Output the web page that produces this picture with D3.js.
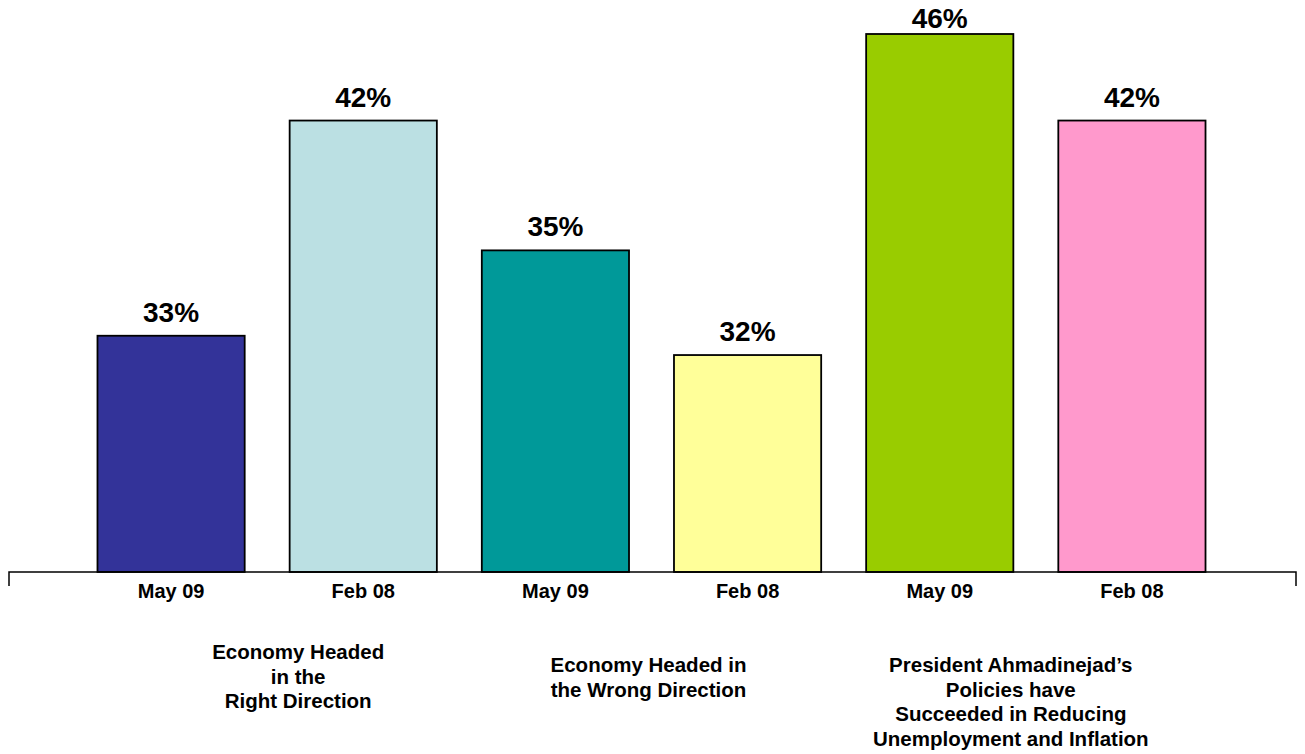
<!DOCTYPE html>
<html>
<head>
<meta charset="utf-8">
<script src="https://cdn.jsdelivr.net/npm/d3@7"></script>
<style>
  body { margin: 0; background: #fff; }
  text { font-family: Arial, "Liberation Sans", sans-serif; font-weight: bold; fill: #000; }
</style>
</head>
<body>
<div id="chart-container"></div>
<script>
// categories and values
var periods = ['May 09', 'Feb 08', 'May 09', 'Feb 08', 'May 09', 'Feb 08'];
var printed = ['33%', '42%', '35%', '32%', '46%', '42%'];
// bar lengths as they stand in the picture (the source bars are not drawn to the printed numbers)
var bar_levels = [20.2, 38.6, 27.5, 18.55, 46, 38.6];
var bar_colors = ['#333399', '#bbe0e3', '#009999', '#ffff99', '#99cc00', '#ff99cc'];
var groups = [
  ['Economy Headed', 'in the', 'Right Direction'],
  ['Economy Headed in', 'the Wrong Direction'],
  ['President Ahmadinejad\u2019s', 'Policies have', 'Succeeded in Reducing', 'Unemployment and Inflation']
];

var svg_width = 1305;
var svg_height = 754;
var base_y = 572;

var svg = d3.select('#chart-container')
  .append('svg')
  .attr('width', svg_width)
  .attr('height', svg_height);

var x = d3.scaleBand()
  .domain(d3.range(periods.length))
  .range([75, 1228])
  .paddingInner(0.234)
  .paddingOuter(0.117);

var y = d3.scaleLinear()
  .domain([0, 46])
  .range([base_y, 34]);

// bars
svg.selectAll('.bar')
  .data(bar_levels)
  .enter()
  .append('rect')
  .attr('class', 'bar')
  .attr('x', function(d, i) { return x(i); })
  .attr('y', function(d) { return y(d); })
  .attr('width', x.bandwidth())
  .attr('height', function(d) { return base_y - y(d); })
  .attr('fill', function(d, i) { return bar_colors[i]; })
  .attr('stroke', '#000')
  .attr('stroke-width', 1.8);

// value labels
svg.selectAll('.value-label')
  .data(bar_levels)
  .enter()
  .append('text')
  .attr('class', 'value-label')
  .attr('x', function(d, i) { return x(i) + x.bandwidth() / 2; })
  .attr('y', function(d) { return Math.max(y(d) - 14, 28); })
  .attr('text-anchor', 'middle')
  .attr('font-size', '28px')
  .text(function(d, i) { return printed[i]; });

// axis line with end ticks
svg.append('path')
  .attr('d', 'M9,586V' + base_y + 'H1296V586')
  .attr('fill', 'none')
  .attr('stroke', '#000')
  .attr('stroke-width', 1.5);

svg.selectAll('.period-label')
  .data(periods)
  .enter()
  .append('text')
  .attr('class', 'period-label')
  .attr('x', function(d, i) { return x(i) + x.bandwidth() / 2; })
  .attr('y', 598)
  .attr('text-anchor', 'middle')
  .attr('font-size', '20px')
  .text(function(d) { return d; });

// group labels under each pair
var group_shift = [31, -3, -25];
var group_top = [659, 672, 672];
groups.forEach(function(lines, g) {
  var cx = (x(g * 2) + x(g * 2 + 1) + x.bandwidth()) / 2 + group_shift[g];
  svg.append('text')
    .attr('class', 'group-label')
    .attr('text-anchor', 'middle')
    .attr('font-size', '20.5px')
    .selectAll('tspan')
    .data(lines)
    .enter()
    .append('tspan')
    .attr('x', cx)
    .attr('y', function(d, i) { return group_top[g] + i * 24.5; })
    .text(function(d) { return d; });
});
</script>
</body>
</html>
